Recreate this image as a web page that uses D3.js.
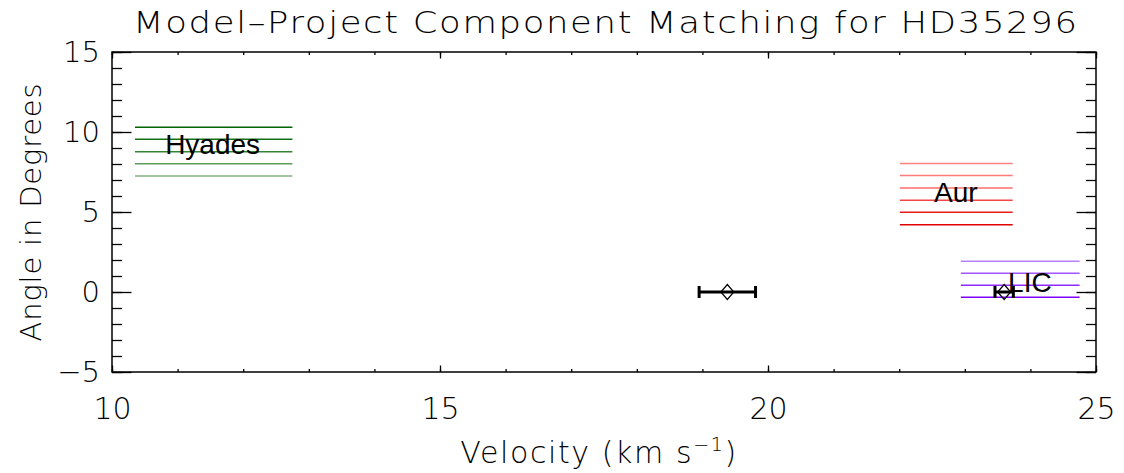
<!DOCTYPE html>
<html>
<head>
<meta charset="utf-8">
<script src="https://cdn.jsdelivr.net/npm/d3@7"></script>
<style>
  html, body { margin: 0; padding: 0; background: #fff; }
  svg { display: block; }
  .thin { font-family: "DejaVu Sans", sans-serif; font-weight: 200; fill: #000; }
  .lab { font-family: "Liberation Sans", Arial, sans-serif; fill: #000; }
</style>
</head>
<body>
<svg id="chart" width="1124" height="473"></svg>
<script>
// Velocity ranges (km/s) and angle levels (deg) of each cloud model component
const hyadesRange = [10.35, 12.75];
const hyadesAngles = [10.3, 9.54, 8.77, 8.02, 7.25];
const hyadesColors = ["#006400", "#127012", "#338433", "#5a9c5a", "#80b480"];

const aurRange = [22.01, 23.73];
const aurAngles = [8.03, 7.28, 6.5, 5.73, 4.98, 4.21];
const aurColors = ["#ff8080", "#ff7a7a", "#fb6e6e", "#f04848", "#e41c1c", "#e00000"];

const licRange = [22.94, 24.75];
const licAngles = [1.92, 1.17, 0.42, -0.33];
const licColors = ["#b880ff", "#a254ff", "#9028ff", "#8000ff"];

// Observed components: velocity, velocity error, angle
const obsVelocity = [19.38, 23.6];
const obsError = [0.43, 0.14];
const obsAngle = [0, 0];

// Component labels
const labelText = ["Hyades", "Aur", "LIC"];
const labelX = [10.81, 22.53, 23.66];
const labelY = [8.6, 5.6, 0.0];

// Axis ticks
const xMajor = [10, 15, 20, 25];
const xMinor = d3.range(10, 25.01, 1);
const yMajor = [-5, 0, 5, 10, 15];
const yMinor = d3.range(-5, 15.01, 1);

const svg = d3.select("#chart");
const pLeft = 112, pRight = 1096, pTop = 52, pBottom = 372;

const x = d3.scaleLinear().domain([10, 25]).range([pLeft, pRight]);
const y = d3.scaleLinear().domain([-5, 15]).range([pBottom, pTop]);

// Title, with glyphs widened horizontally
const titleScale = 1.18;
svg.append("g").attr("transform", `translate(605,33) scale(${titleScale},1)`)
  .append("text").attr("class", "thin")
  .attr("x", 0).attr("y", 0)
  .attr("text-anchor", "middle")
  .attr("font-size", 30)
  .attr("textLength", 944 / titleScale).attr("lengthAdjust", "spacing")
  .text("Model\u2013Project Component Matching for HD35296");

// Component bands
function band(range, angles, colors) {
  svg.append("g").selectAll("line").data(angles).join("line")
    .attr("x1", x(range[0])).attr("x2", x(range[1]))
    .attr("y1", d => y(d)).attr("y2", d => y(d))
    .attr("stroke", (d, i) => colors[i])
    .attr("stroke-width", 1.5);
}
band(hyadesRange, hyadesAngles, hyadesColors);
band(aurRange, aurAngles, aurColors);
band(licRange, licAngles, licColors);

// Labels
svg.append("g").selectAll("text").data(labelText).join("text")
  .attr("class", "lab")
  .attr("x", (d, i) => x(labelX[i]))
  .attr("y", (d, i) => y(labelY[i]))
  .attr("font-size", 28)
  .text(d => d);

// Observed points with horizontal error bars
const obs = svg.append("g");
obsVelocity.forEach((v, i) => {
  const cy = y(obsAngle[i]);
  const x0 = x(v - obsError[i]), x1 = x(v + obsError[i]);
  obs.append("line").attr("x1", x0).attr("x2", x1).attr("y1", cy).attr("y2", cy)
    .attr("stroke", "#000").attr("stroke-width", 3);
  [x0, x1].forEach(cx => obs.append("line")
    .attr("x1", cx).attr("x2", cx).attr("y1", cy - 6).attr("y2", cy + 6)
    .attr("stroke", "#000").attr("stroke-width", 3));
  const cx = x(v);
  obs.append("path")
    .attr("d", `M${cx},${cy - 7.5}L${cx + 6.5},${cy}L${cx},${cy + 7.5}L${cx - 6.5},${cy}Z`)
    .attr("fill", "none").attr("stroke", "#000").attr("stroke-width", 1.2);
});

// Axes with inward ticks on all four sides
function styleAxis(g) {
  g.select(".domain").remove();
  g.selectAll("line").attr("stroke", "#000").attr("stroke-width", 1.3);
}
const fmt = d => d < 0 ? "\u2212" + Math.abs(d) : String(d);

svg.append("g").attr("transform", `translate(0,${pBottom})`)
  .call(d3.axisBottom(x).tickValues(xMinor).tickSizeInner(-3).tickSizeOuter(0).tickFormat(""))
  .call(styleAxis);
svg.append("g").attr("transform", `translate(0,${pBottom})`)
  .call(d3.axisBottom(x).tickValues(xMajor).tickSizeInner(-6.5).tickSizeOuter(0).tickPadding(26).tickFormat(fmt))
  .call(styleAxis)
  .call(g => g.selectAll("text").attr("class", "thin").attr("font-size", 30).attr("font-family", null));
svg.append("g").attr("transform", `translate(0,${pTop})`)
  .call(d3.axisTop(x).tickValues(xMinor).tickSizeInner(-3).tickSizeOuter(0).tickFormat(""))
  .call(styleAxis);
svg.append("g").attr("transform", `translate(0,${pTop})`)
  .call(d3.axisTop(x).tickValues(xMajor).tickSizeInner(-6.5).tickSizeOuter(0).tickFormat(""))
  .call(styleAxis);

svg.append("g").attr("transform", `translate(${pLeft},0)`)
  .call(d3.axisLeft(y).tickValues(yMinor).tickSizeInner(-10).tickSizeOuter(0).tickFormat(""))
  .call(styleAxis);
svg.append("g").attr("transform", `translate(${pLeft},0)`)
  .call(d3.axisLeft(y).tickValues(yMajor).tickSizeInner(-19.5).tickSizeOuter(0).tickPadding(12).tickFormat(fmt))
  .call(styleAxis)
  .call(g => g.selectAll("text").attr("class", "thin").attr("font-size", 29).attr("font-family", null));
svg.append("g").attr("transform", `translate(${pRight},0)`)
  .call(d3.axisRight(y).tickValues(yMinor).tickSizeInner(-10).tickSizeOuter(0).tickFormat(""))
  .call(styleAxis);
svg.append("g").attr("transform", `translate(${pRight},0)`)
  .call(d3.axisRight(y).tickValues(yMajor).tickSizeInner(-19.5).tickSizeOuter(0).tickFormat(""))
  .call(styleAxis);

// Plot frame
svg.append("rect")
  .attr("x", pLeft).attr("y", pTop).attr("width", pRight - pLeft).attr("height", pBottom - pTop)
  .attr("fill", "none").attr("stroke", "#000").attr("stroke-width", 1.5);

// Axis titles
const xt = svg.append("text").attr("class", "thin")
  .attr("x", 599).attr("y", 463).attr("text-anchor", "middle").attr("font-size", 30)
  .attr("letter-spacing", 1.6);
xt.append("tspan").text("Velocity (km s");
xt.append("tspan").attr("font-size", 19).attr("dy", -12).text("\u22121");
xt.append("tspan").attr("dy", 12).text(")");

svg.append("text").attr("class", "thin")
  .attr("transform", `translate(41,${(pTop + pBottom) / 2}) rotate(-90)`)
  .attr("text-anchor", "middle").attr("font-size", 29).attr("letter-spacing", 0.8)
  .text("Angle in Degrees");
</script>
</body>
</html>
